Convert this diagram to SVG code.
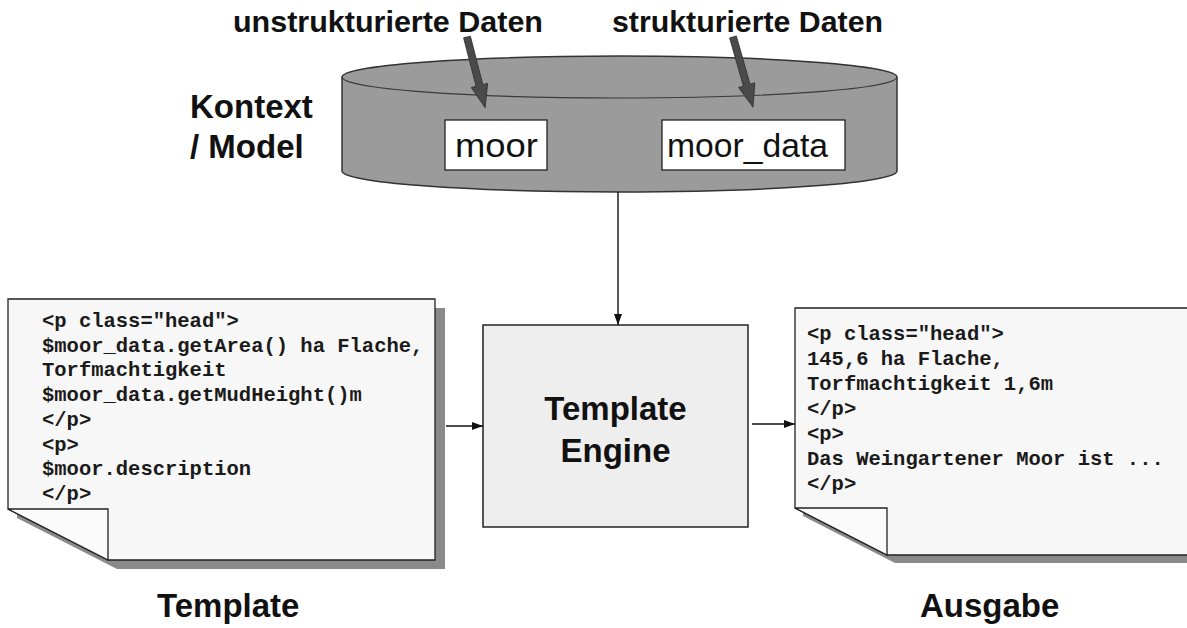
<svg xmlns="http://www.w3.org/2000/svg" xmlns:xlink="http://www.w3.org/1999/xlink" width="1187" height="628" viewBox="0 0 1187 628">
  <style>
    .label { font-family: "Liberation Sans", Arial, sans-serif; font-weight: bold; fill: #111; }
    .var { font-family: "Liberation Sans", Arial, sans-serif; font-size: 34px; fill: #111; }
    .code { font-family: "Liberation Mono", "Courier New", monospace; font-size: 20.5px; font-weight: bold; fill: #1a1a1a; }
    .doc { fill: #f7f7f7; stroke: #222; stroke-width: 1.3; }
    .shadow { fill: #8a8a8a; }
    .fold { fill: #fbfbfb; stroke: #222; stroke-width: 1.3; stroke-linejoin: miter; }
    .conn { stroke: #111; stroke-width: 1.4; fill: none; }
  </style>
  <defs>
    <marker id="ah" markerWidth="11" markerHeight="8" refX="11" refY="4" orient="auto" markerUnits="userSpaceOnUse">
      <path d="M0,0 L11,4 L0,8 Z" fill="#111"/>
    </marker>
    <!-- thick data-feed arrow, pointing along +y -->
    <path id="feed" d="M-3.5,0 L3.5,0 L3.5,50 L8.5,50 L0,73 L-8.5,50 L-3.5,50 Z" fill="#4a4a4a" stroke="#333" stroke-width="0.8"/>
  </defs>

  <rect width="1187" height="628" fill="#ffffff"/>

  <!-- data labels -->
  <g id="labels-top">
    <text class="label" x="233" y="32" font-size="30" textLength="310" lengthAdjust="spacingAndGlyphs">unstrukturierte Daten</text>
    <text class="label" x="612" y="32" font-size="30" textLength="271" lengthAdjust="spacingAndGlyphs">strukturierte Daten</text>
  </g>

  <!-- context / model store -->
  <g id="kontext">
    <text class="label" x="190" y="118" font-size="33">Kontext</text>
    <text class="label" x="190" y="158" font-size="33">/ Model</text>
    <path d="M342,77 A277.5,21 0 0 1 897,77 V171 A277.5,21 0 0 1 342,171 Z" fill="#9b9b9b" stroke="#333" stroke-width="1.5"/>
    <path d="M342,77 A277.5,21 0 0 0 897,77" fill="none" stroke="#3a3a3a" stroke-width="1.2"/>
    <use xlink:href="#feed" href="#feed" transform="translate(467,37) rotate(-14.4)"/>
    <use xlink:href="#feed" href="#feed" transform="translate(733,37) rotate(-15.9)"/>
    <g id="moor">
      <rect x="445" y="120" width="102" height="50" fill="#ffffff" stroke="#222" stroke-width="1.3"/>
      <text class="var" x="455" y="157" textLength="83" lengthAdjust="spacingAndGlyphs">moor</text>
    </g>
    <g id="moor_data">
      <rect x="662" y="120" width="183" height="50" fill="#ffffff" stroke="#222" stroke-width="1.3"/>
      <text class="var" x="667" y="157" textLength="161" lengthAdjust="spacingAndGlyphs">moor_data</text>
    </g>
  </g>

  <!-- template document -->
  <g id="template">
    <path class="shadow" d="M17,308 H445 V569 H117 L17,518 Z"/>
    <path class="doc" d="M8,299 H435 V560 H108 L8,509 Z"/>
    <path class="fold" d="M8,509 H108 V560 Z"/>
    <text class="code" x="42" y="327">&lt;p class="head"&gt;</text>
    <text class="code" x="42" y="351.7">$moor_data.getArea() ha Flache,</text>
    <text class="code" x="42" y="376.4">Torfmachtigkeit</text>
    <text class="code" x="42" y="401.1">$moor_data.getMudHeight()m</text>
    <text class="code" x="42" y="425.8">&lt;/p&gt;</text>
    <text class="code" x="42" y="450.5">&lt;p&gt;</text>
    <text class="code" x="42" y="475.2">$moor.description</text>
    <text class="code" x="42" y="499.9">&lt;/p&gt;</text>
    <text class="label" x="157" y="617" font-size="33">Template</text>
  </g>

  <!-- template engine -->
  <g id="engine">
    <rect x="483" y="325" width="265" height="202" fill="#eeeeee" stroke="#222" stroke-width="1.5"/>
    <text class="label" x="615.5" y="420" font-size="33" text-anchor="middle">Template</text>
    <text class="label" x="615.5" y="462" font-size="33" text-anchor="middle">Engine</text>
  </g>

  <!-- output document -->
  <g id="ausgabe">
    <path class="shadow" d="M803,316 H1200 V563 H895 L803,516 Z"/>
    <path class="doc" d="M795,308 H1200 V555 H887 L795,508 Z"/>
    <path class="fold" d="M795,508 H887 V555 Z"/>
    <text class="code" x="807" y="340">&lt;p class="head"&gt;</text>
    <text class="code" x="807" y="365">145,6 ha Flache,</text>
    <text class="code" x="807" y="390">Torfmachtigkeit 1,6m</text>
    <text class="code" x="807" y="415">&lt;/p&gt;</text>
    <text class="code" x="807" y="440">&lt;p&gt;</text>
    <text class="code" x="807" y="465">Das Weingartener Moor ist ...</text>
    <text class="code" x="807" y="490">&lt;/p&gt;</text>
    <text class="label" x="920" y="617" font-size="33">Ausgabe</text>
  </g>

  <!-- connectors -->
  <g id="connectors">
    <line class="conn" x1="618" y1="192" x2="618" y2="325" marker-end="url(#ah)"/>
    <line class="conn" x1="446" y1="426" x2="483" y2="426" marker-end="url(#ah)"/>
    <line class="conn" x1="752" y1="424" x2="795" y2="424" marker-end="url(#ah)"/>
  </g>
</svg>
